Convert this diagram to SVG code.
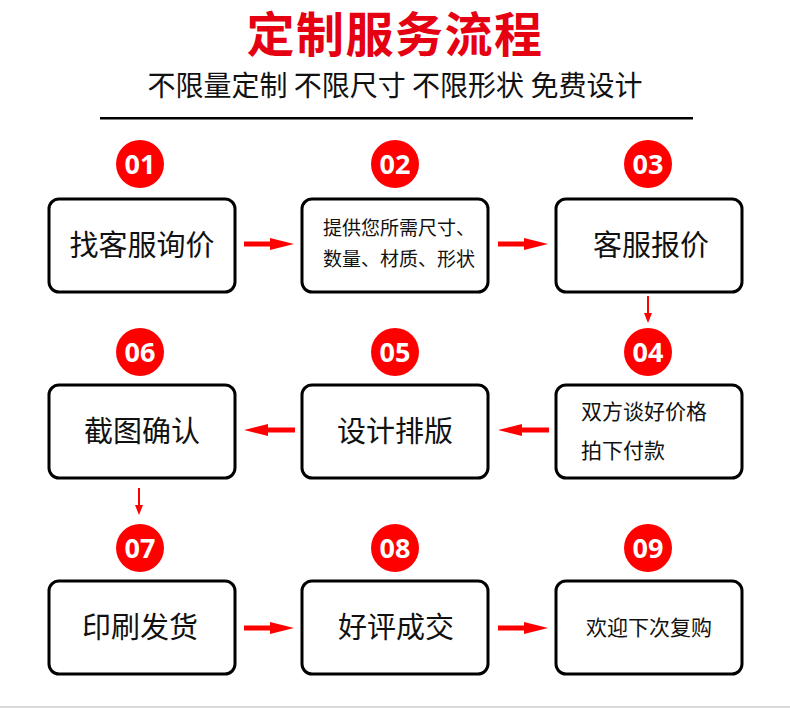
<svg xmlns="http://www.w3.org/2000/svg" width="790" height="708" viewBox="0 0 790 708">
<style>
.box{fill:#fff;stroke:#000;stroke-width:3}
.num{fill:#f00}
.nt{fill:#fff;font-family:"Open Sans","Liberation Sans",sans-serif;font-weight:bold;font-size:27px;text-anchor:middle}
.t{fill:#111;font-family:"Noto Sans CJK SC",sans-serif;font-size:29px;text-anchor:middle}
.s{fill:#111;font-family:"Noto Sans CJK SC",sans-serif;font-size:19px}
.m{fill:#111;font-family:"Noto Sans CJK SC",sans-serif;font-size:21px}
.ar{fill:#f00}
</style>
<rect width="790" height="708" fill="#fff"/>
<text x="395" y="52" text-anchor="middle" fill="#e50012" font-family="Noto Sans CJK SC,sans-serif" font-weight="bold" font-size="48" letter-spacing="1.5">定制服务流程</text>
<text x="395" y="96" text-anchor="middle" fill="#111" font-family="Noto Sans CJK SC,sans-serif" font-size="28">不限量定制 不限尺寸 不限形状 免费设计</text>
<rect x="100" y="117" width="593" height="2.5" fill="#000"/>
<rect x="0" y="706" width="790" height="2" fill="#d9d9d9"/>

<g id="connectors">
<polygon class="ar" points="244,241.5 270,241.5 270,238 294,244 270,250 270,246.5 244,246.5"/>
<polygon class="ar" points="498,241.5 524,241.5 524,238 548,244 524,250 524,246.5 498,246.5"/>
<polygon class="ar" points="647,296 649,296 649,313 652,313 648,323 644,313 647,313"/>
<polygon class="ar" points="549,427.5 522,427.5 522,424 498,430 522,436 522,432.5 549,432.5"/>
<polygon class="ar" points="295,427.5 268,427.5 268,424 244,430 268,436 268,432.5 295,432.5"/>
<polygon class="ar" points="138,488 140,488 140,505 143,505 139,515 135,505 138,505"/>
<polygon class="ar" points="244,625.5 270,625.5 270,622 294,628 270,634 270,630.5 244,630.5"/>
<polygon class="ar" points="498,625.5 524,625.5 524,622 548,628 524,634 524,630.5 498,630.5"/>
</g>

<g id="step01">
<circle class="num" cx="140" cy="164" r="24"/><text class="nt" x="140" y="174">01</text>
<rect class="box" x="49" y="199" width="186" height="93" rx="10"/>
<text class="t" x="142" y="256">找客服询价</text>
</g>
<g id="step02">
<circle class="num" cx="395" cy="164" r="24"/><text class="nt" x="395" y="174">02</text>
<rect class="box" x="302" y="199" width="186" height="93" rx="10"/>
<text class="s" x="323" y="235">提供您所需尺寸、</text>
<text class="s" x="323" y="266">数量、材质、形状</text>
</g>
<g id="step03">
<circle class="num" cx="648" cy="164" r="24"/><text class="nt" x="648" y="174">03</text>
<rect class="box" x="556" y="199" width="186" height="93" rx="10"/>
<text class="t" x="651" y="256">客服报价</text>
</g>
<g id="step04">
<circle class="num" cx="648" cy="352" r="24"/><text class="nt" x="648" y="362">04</text>
<rect class="box" x="556" y="385" width="186" height="93" rx="10"/>
<text class="m" x="581" y="419">双方谈好价格</text>
<text class="m" x="581" y="458">拍下付款</text>
</g>
<g id="step05">
<circle class="num" cx="395" cy="352" r="24"/><text class="nt" x="395" y="362">05</text>
<rect class="box" x="302" y="385" width="186" height="93" rx="10"/>
<text class="t" x="395" y="442">设计排版</text>
</g>
<g id="step06">
<circle class="num" cx="140" cy="352" r="24"/><text class="nt" x="140" y="362">06</text>
<rect class="box" x="49" y="385" width="186" height="93" rx="10"/>
<text class="t" x="142" y="442">截图确认</text>
</g>
<g id="step07">
<circle class="num" cx="140" cy="548" r="24"/><text class="nt" x="140" y="558">07</text>
<rect class="box" x="49" y="581" width="186" height="93" rx="10"/>
<text class="t" x="140" y="638">印刷发货</text>
</g>
<g id="step08">
<circle class="num" cx="395" cy="548" r="24"/><text class="nt" x="395" y="558">08</text>
<rect class="box" x="302" y="581" width="186" height="93" rx="10"/>
<text class="t" x="396" y="638">好评成交</text>
</g>
<g id="step09">
<circle class="num" cx="648" cy="548" r="24"/><text class="nt" x="648" y="558">09</text>
<rect class="box" x="556" y="581" width="186" height="93" rx="10"/>
<text class="m" x="649" y="635" text-anchor="middle" font-size="21">欢迎下次复购</text>
</g>
</svg>
